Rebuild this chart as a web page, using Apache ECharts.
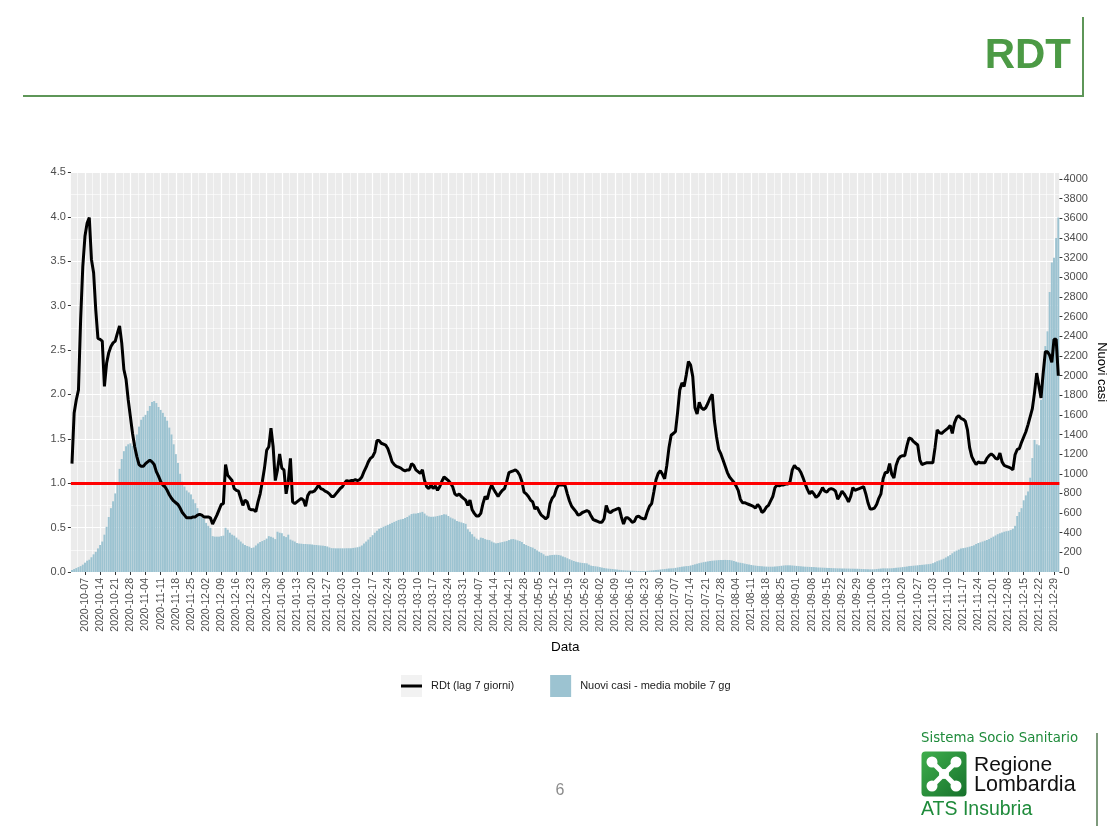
<!DOCTYPE html>
<html><head><meta charset="utf-8">
<script src="https://cdn.jsdelivr.net/npm/echarts@6/dist/echarts.min.js"></script>
<style>html,body{margin:0;padding:0;background:#fff}#c{width:1115px;height:826px}</style>
</head><body><div id="c"></div>
<script>
const START_DATE = '2020-10-01';
const rdt = [
1.22,1.79,1.94,2.05,2.84,3.44,3.78,3.93,3.99,3.52,
3.37,2.95,2.63,2.62,2.60,2.09,2.35,2.47,2.54,2.58,
2.60,2.69,2.77,2.58,2.28,2.17,1.94,1.75,1.56,1.41,
1.30,1.21,1.19,1.19,1.22,1.24,1.26,1.24,1.21,1.13,
1.08,1.02,0.98,0.96,0.92,0.87,0.83,0.80,0.78,0.76,
0.72,0.67,0.64,0.61,0.61,0.61,0.62,0.62,0.64,0.65,
0.64,0.62,0.62,0.62,0.61,0.54,0.59,0.64,0.70,0.76,
0.77,1.21,1.09,1.06,1.03,0.94,0.92,0.91,0.83,0.75,
0.81,0.79,0.71,0.70,0.70,0.68,0.79,0.88,1.02,1.17,
1.37,1.41,1.62,1.41,1.03,1.15,1.33,1.17,1.15,0.88,
1.02,1.28,0.79,0.77,0.79,0.81,0.83,0.81,0.74,0.86,
0.90,0.90,0.91,0.94,0.98,0.94,0.93,0.91,0.90,0.88,
0.85,0.85,0.88,0.91,0.94,0.96,1.00,1.03,1.02,1.03,
1.03,1.04,1.03,1.04,1.07,1.13,1.18,1.24,1.28,1.30,
1.35,1.48,1.48,1.45,1.44,1.43,1.39,1.32,1.24,1.21,
1.19,1.18,1.17,1.15,1.14,1.15,1.15,1.22,1.20,1.15,
1.13,1.11,1.15,1.03,0.96,0.94,0.98,0.94,0.97,0.92,
0.96,1.02,1.07,1.05,1.03,1.00,0.96,0.88,0.86,0.88,
0.85,0.83,0.81,0.75,0.81,0.70,0.66,0.63,0.63,0.66,
0.77,0.85,0.82,0.92,0.98,0.93,0.89,0.85,0.89,0.92,
0.94,1.02,1.12,1.13,1.14,1.15,1.13,1.09,1.02,0.90,
0.88,0.85,0.81,0.79,0.71,0.73,0.68,0.64,0.62,0.60,
0.62,0.77,0.83,0.86,0.94,0.98,0.98,0.98,0.97,0.88,
0.80,0.74,0.71,0.68,0.64,0.65,0.67,0.68,0.69,0.68,
0.63,0.59,0.58,0.57,0.56,0.56,0.60,0.75,0.68,0.67,
0.69,0.70,0.71,0.72,0.62,0.54,0.61,0.61,0.59,0.56,
0.57,0.62,0.63,0.61,0.60,0.60,0.68,0.74,0.77,0.90,
1.04,1.11,1.14,1.10,1.05,1.20,1.40,1.54,1.56,1.58,
1.80,2.05,2.13,2.09,2.22,2.37,2.33,2.20,1.85,1.78,
1.91,1.85,1.83,1.85,1.90,1.96,2.00,1.70,1.52,1.38,
1.33,1.26,1.19,1.12,1.07,1.04,1.01,0.97,0.92,0.82,
0.78,0.78,0.77,0.76,0.75,0.74,0.72,0.76,0.73,0.67,
0.69,0.73,0.75,0.80,0.85,0.95,0.98,0.97,0.98,0.98,
0.99,0.99,1.02,1.15,1.20,1.17,1.16,1.12,1.06,0.99,
0.93,0.88,0.91,0.88,0.84,0.86,0.90,0.95,0.91,0.90,
0.93,0.94,0.93,0.91,0.82,0.86,0.91,0.88,0.84,0.79,
0.85,0.95,0.92,0.93,0.94,0.95,0.96,0.88,0.78,0.71,
0.71,0.72,0.76,0.83,0.88,1.05,1.12,1.12,1.22,1.10,
1.06,1.20,1.27,1.30,1.31,1.31,1.42,1.51,1.50,1.47,
1.45,1.43,1.26,1.21,1.22,1.23,1.23,1.23,1.23,1.40,
1.60,1.57,1.56,1.58,1.60,1.62,1.65,1.56,1.68,1.74,
1.76,1.73,1.72,1.70,1.60,1.40,1.30,1.25,1.21,1.24,
1.23,1.23,1.23,1.28,1.31,1.33,1.31,1.28,1.27,1.34,
1.24,1.20,1.19,1.18,1.17,1.15,1.32,1.38,1.39,1.46,
1.52,1.58,1.66,1.75,1.84,2.02,2.24,2.10,1.96,2.24,
2.48,2.48,2.44,2.36,2.62,2.62,2.21
];
const nuoviCasi = [
20,30,40,50,60,75,95,115,125,150,
180,205,240,275,310,380,460,560,650,720,
800,900,1050,1150,1230,1280,1300,1310,1285,1320,
1400,1480,1550,1580,1600,1640,1690,1730,1740,1720,
1680,1650,1620,1580,1540,1470,1400,1300,1200,1110,
1000,920,870,830,810,790,740,700,650,600,
560,540,500,470,450,365,360,360,360,365,
370,450,430,400,380,370,350,330,310,290,
275,265,258,245,250,270,290,305,315,325,
340,365,360,350,335,410,400,395,365,355,
380,330,320,310,295,290,288,285,285,283,
282,280,276,275,272,270,268,265,260,250,
243,242,241,241,241,241,241,242,242,243,
245,248,252,258,270,290,310,330,355,375,
400,420,440,450,460,470,480,490,500,510,
520,530,535,540,550,560,575,590,595,595,
600,605,612,595,575,565,562,563,565,570,
575,580,587,585,570,555,545,535,520,512,
505,498,490,435,410,385,360,340,328,350,
345,335,328,325,310,300,292,295,300,305,
310,315,325,333,335,330,322,315,305,285,
275,265,255,248,235,220,207,195,180,165,
165,170,173,175,175,173,168,158,150,140,
130,120,112,105,100,95,92,90,88,75,
65,61,58,55,50,45,40,37,34,32,
30,27,25,22,20,18,16,15,14,13,
12,11,10,10,10,11,12,14,16,18,
20,22,25,28,30,33,36,37,38,42,
46,50,54,57,60,61,66,72,78,84,
90,95,100,104,108,112,115,117,119,121,
122,122,123,122,122,118,112,105,98,94,
90,85,80,76,72,68,65,62,60,58,
56,55,54,54,54,56,58,60,63,66,
68,68,68,66,64,62,60,58,56,54,
53,52,51,50,48,46,45,44,43,42,
41,40,39,38,37,37,36,36,35,35,
34,34,34,33,32,31,30,29,28,27,
27,28,30,33,35,37,37,37,37,38,
40,43,45,47,50,53,56,60,62,64,
66,68,71,73,75,78,80,83,90,98,
110,118,126,135,148,160,173,190,207,218,
228,238,243,247,252,258,265,272,285,295,
302,310,318,326,335,348,360,372,385,394,
402,410,415,420,427,440,470,570,610,650,
730,780,820,960,1160,1345,1300,1290,1750,2050,
2300,2450,2850,3150,3200,3400,3610
];
const SOGLIA = 1;
const leftTicks = [0, 0.5, 1, 1.5, 2, 2.5, 3, 3.5, 4, 4.5];
const rightTicks = [0,200,400,600,800,1000,1200,1400,1600,1800,2000,2200,2400,2600,2800,3000,3200,3400,3600,3800,4000];
const FIRST_LABEL_INDEX = 6;   // 2020-10-07
const LABEL_STEP = 7;
const SERIES_RDT = 'RDt (lag 7 giorni)';
const SERIES_CASI = 'Nuovi casi - media mobile 7 gg';

// date categories
const dates = [];
(function(){
  const d0 = new Date(START_DATE + 'T00:00:00Z');
  for (let i = 0; i < rdt.length; i++) {
    const d = new Date(d0.getTime() + i * 86400000);
    dates.push(d.toISOString().slice(0, 10));
  }
})();

const FONT = '"Liberation Sans", Arial, sans-serif';
const isMajor = (i) => i >= FIRST_LABEL_INDEX && (i - FIRST_LABEL_INDEX) % LABEL_STEP === 0;
const isMinor = (i) => i % LABEL_STEP === 3;

const chart = echarts.init(document.getElementById('c'), null, {renderer: 'canvas'});
const RMAX = 4068;
chart.setOption({
  animation: false,
  backgroundColor: '#ffffff',
  grid: [{
    left: 70.9, top: 172.4, width: 988.5, height: 399.6,
    show: true, backgroundColor: '#EBEBEB', borderWidth: 0, containLabel: false,
    outerBoundsMode: 'none'
  }],
  legend: {
    left: 401, top: 675, orient: 'horizontal', padding: 0,
    itemWidth: 21, itemHeight: 22, itemGap: 36, symbolKeepAspect: true,
    data: [{name: SERIES_RDT, icon: 'path://M0,0h21v3h-21z'}, {name: SERIES_CASI, icon: 'rect'}],
    textStyle: {fontFamily: FONT, fontSize: 11, color: '#1A1A1A', padding: [0, 0, 0, 4]},
    selectedMode: false
  },
  xAxis: [{
    type: 'category', gridIndex: 0, data: dates, boundaryGap: true,
    axisLine: {show: false},
    axisTick: {show: true, alignWithLabel: true, interval: (i) => isMajor(i), length: 3, lineStyle: {color: '#333333', width: 1}},
    axisLabel: {interval: (i) => isMajor(i), rotate: 90, fontSize: 10.5, color: '#4D4D4D', margin: 6, fontFamily: FONT},
    splitLine: {show: true, alignWithLabel: true, interval: (i) => isMajor(i), lineStyle: {color: '#FFFFFF', width: 1.2}},
    name: 'Data', nameLocation: 'middle', nameGap: 68,
    nameTextStyle: {fontFamily: FONT, fontSize: 13.5, color: '#000000'}
  }, {
    type: 'category', gridIndex: 0, data: dates, boundaryGap: true, position: 'bottom',
    axisLine: {show: false}, axisTick: {show: false}, axisLabel: {show: false},
    splitLine: {show: true, interval: (i) => isMinor(i), lineStyle: {color: '#FFFFFF', width: 0.6}}
  }],
  yAxis: [{
    type: 'value', gridIndex: 0, position: 'left', min: 0, max: 4.5, interval: 0.5,
    axisLine: {show: false},
    axisTick: {show: true, length: 3, lineStyle: {color: '#333333'}},
    axisLabel: {formatter: (v) => v.toFixed(1), fontSize: 11, color: '#4D4D4D', margin: 5, fontFamily: FONT},
    splitLine: {show: true, lineStyle: {color: '#FFFFFF', width: 1.2}},
    minorTick: {show: false, splitNumber: 2},
    minorSplitLine: {show: true, lineStyle: {color: '#FFFFFF', width: 0.6}}
  }, {
    type: 'value', gridIndex: 0, position: 'right', min: 0, max: RMAX,
    axisLine: {show: false},
    axisTick: {show: true, length: 3, lineStyle: {color: '#333333'}, customValues: rightTicks},
    axisLabel: {customValues: rightTicks, formatter: (v) => String(Math.round(v)), fontSize: 11, color: '#4D4D4D', margin: 4, fontFamily: FONT},
    splitLine: {show: false},
    name: 'Nuovi casi', nameLocation: 'middle', nameRotate: -90, nameGap: 36, nameMoveOverlap: false,
    nameTextStyle: {fontFamily: FONT, fontSize: 13, color: '#000000'}
  }],
  series: [{
    name: SERIES_CASI, type: 'bar', xAxisIndex: 0, yAxisIndex: 1,
    data: nuoviCasi, barCategoryGap: '10%',
    itemStyle: {color: '#9CC3D1'}, z: 2, silent: true
  }, {
    name: SERIES_RDT, type: 'line', xAxisIndex: 0, yAxisIndex: 0,
    data: rdt, symbol: 'none', smooth: false,
    lineStyle: {color: '#000000', width: 3}, itemStyle: {color: '#000000'}, z: 3,
    markLine: {
      silent: true, symbol: ['none', 'none'], label: {show: false},
      lineStyle: {color: '#FF0000', width: 3, type: 'solid'},
      data: [{yAxis: SOGLIA}]
    }
  }],
  graphic: [
    {type: 'rect', left: 401, top: 675, z: 0, shape: {width: 21, height: 22}, style: {fill: '#F2F2F2'}, silent: true},
    {type: 'line', z: 0, shape: {x1: 23, y1: 96, x2: 1083, y2: 96}, style: {stroke: '#5E9658', lineWidth: 2}, silent: true},
    {type: 'line', z: 0, shape: {x1: 1083, y1: 17, x2: 1083, y2: 97}, style: {stroke: '#5E9658', lineWidth: 2}, silent: true},
    {type: 'text', z: 1, x: 1071, y: 56, style: {text: 'RDT', align: 'right', verticalAlign: 'middle', font: 'bold 42px "Liberation Sans", Arial, sans-serif', fill: '#4C9A45'}},
    {type: 'line', z: 0, shape: {x1: 1097, y1: 733, x2: 1097, y2: 826}, style: {stroke: '#7E9A7C', lineWidth: 2}, silent: true},
    {type: 'text', z: 1, x: 921, y: 739, style: {text: 'Sistema Socio Sanitario', align: 'left', verticalAlign: 'middle', font: '13.3px "DejaVu Sans", sans-serif', fill: '#1F8B3B'}},
    {type: 'rect', z: 1, shape: {x: 921.5, y: 751.5, width: 45, height: 45, r: 4},
      style: {fill: new echarts.graphic.LinearGradient(0, 0, 1, 1, [{offset: 0, color: '#3FAE4C'}, {offset: 1, color: '#17722C'}])}},
    {type: 'line', z: 2, shape: {x1: 933, y1: 763, x2: 955, y2: 785}, style: {stroke: '#FFFFFF', lineWidth: 5}},
    {type: 'line', z: 2, shape: {x1: 955, y1: 763, x2: 933, y2: 785}, style: {stroke: '#FFFFFF', lineWidth: 5}},
    {type: 'circle', z: 2, shape: {cx: 932, cy: 762, r: 5.5}, style: {fill: '#FFFFFF'}},
    {type: 'circle', z: 2, shape: {cx: 956, cy: 762, r: 5.5}, style: {fill: '#FFFFFF'}},
    {type: 'circle', z: 2, shape: {cx: 932, cy: 786, r: 5.5}, style: {fill: '#FFFFFF'}},
    {type: 'circle', z: 2, shape: {cx: 956, cy: 786, r: 5.5}, style: {fill: '#FFFFFF'}},
    {type: 'circle', z: 2, shape: {cx: 944, cy: 774, r: 5}, style: {fill: '#FFFFFF'}},
    {type: 'text', z: 1, x: 974, y: 765, style: {text: 'Regione', align: 'left', verticalAlign: 'middle', font: '21px "Liberation Sans", Arial, sans-serif', fill: '#111111'}},
    {type: 'text', z: 1, x: 974, y: 785, style: {text: 'Lombardia', align: 'left', verticalAlign: 'middle', font: '21.5px "Liberation Sans", Arial, sans-serif', fill: '#111111'}},
    {type: 'text', z: 1, x: 921, y: 810, style: {text: 'ATS Insubria', align: 'left', verticalAlign: 'middle', font: '19.5px "Liberation Sans", Arial, sans-serif', fill: '#1F8B3B'}},
    {type: 'text', z: 1, x: 560, y: 791, style: {text: '6', align: 'center', verticalAlign: 'middle', font: '16px "Liberation Sans", Arial, sans-serif', fill: '#8C8C8C'}}
  ]
});
</script>
</body></html>
